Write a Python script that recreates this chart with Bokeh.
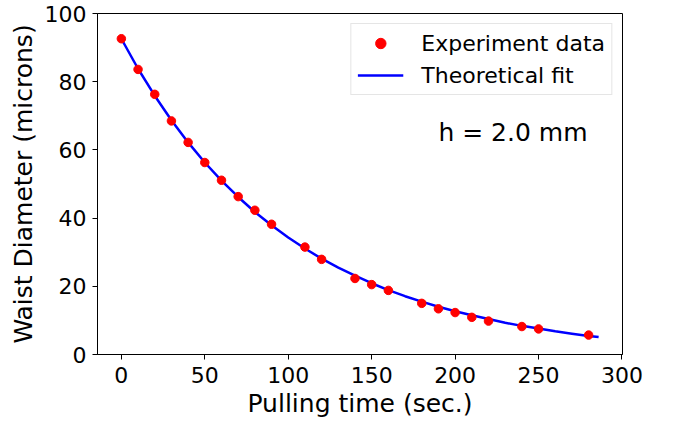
from bokeh.plotting import figure
from bokeh.models import Range1d, Label, Legend, LegendItem, FixedTicker
from bokeh.embed import file_html
from bokeh.resources import INLINE

# Experimental data
time_exp = [0, 10, 20, 30, 40, 50, 60, 70, 80, 90, 110, 120, 140, 150, 160,
            180, 190, 200, 210, 220, 240, 250, 280]
diam_exp = [92.6, 83.6, 76.3, 68.5, 62.2, 56.3, 51.1, 46.3, 42.3, 38.2, 31.5,
            27.9, 22.3, 20.5, 18.8, 15.0, 13.4, 12.3, 10.9, 9.8, 8.2, 7.5, 5.7]

# Theoretical fit curve
time_fit = [0, 10, 20, 30, 40, 50, 60, 70, 80, 90, 100, 110, 120, 130, 140,
            150, 160, 170, 180, 190, 200, 210, 220, 230, 240, 250, 260, 270,
            280, 286]
diam_fit = [92.6, 83.8, 75.9, 68.7, 62.2, 56.3, 51.0, 46.2, 41.8, 37.9, 34.3,
            31.1, 28.1, 25.5, 23.1, 20.9, 18.9, 17.1, 15.5, 14.0, 12.7, 11.5,
            10.4, 9.3, 8.4, 7.6, 6.8, 6.1, 5.4, 5.1]

x_ticks = [0, 50, 100, 150, 200, 250, 300]
y_ticks = [0, 20, 40, 60, 80, 100]

FONT = "DejaVu Sans"

p = figure(width=678, height=421, output_backend="svg", toolbar_location=None,
           x_range=Range1d(-14.3, 300.3), y_range=Range1d(0, 100),
           min_border_left=97, min_border_right=56, min_border_top=13,
           min_border_bottom=67)
p.grid.visible = False
p.outline_line_color = "black"
p.outline_line_width = 1
p.background_fill_color = "white"
p.border_fill_color = "white"

line_r = p.line(time_fit, diam_fit, line_color="#0000ff", line_width=2.5)
pts_r = p.scatter(time_exp, diam_exp, size=8.5, fill_color="#ff0000",
                  line_color="#ff0000")

for ax in (p.xaxis[0], p.yaxis[0]):
    ax.axis_line_color = "black"
    ax.axis_line_width = 1
    ax.major_tick_line_color = "black"
    ax.major_tick_line_width = 1
    ax.major_tick_out = 5
    ax.major_tick_in = 0
    ax.minor_tick_line_color = None
    ax.major_label_text_font = FONT
    ax.major_label_text_font_size = "22px"
    ax.major_label_text_color = "black"
    ax.axis_label_text_font = FONT
    ax.axis_label_text_font_size = "25px"
    ax.axis_label_text_font_style = "normal"
    ax.axis_label_text_color = "black"

p.xaxis[0].ticker = FixedTicker(ticks=x_ticks)
p.yaxis[0].ticker = FixedTicker(ticks=y_ticks)
p.xaxis[0].axis_label = "Pulling time (sec.)"
p.yaxis[0].axis_label = "Waist Diameter (microns)"
p.xaxis[0].major_label_standoff = 7
p.yaxis[0].major_label_standoff = 6
p.xaxis[0].axis_label_standoff = 3
p.yaxis[0].axis_label_standoff = 4

legend = Legend(items=[LegendItem(label="Experiment data", renderers=[pts_r]),
                       LegendItem(label="Theoretical fit", renderers=[line_r])],
                location="top_right")
legend.margin = 10
legend.padding = 6
legend.spacing = 6
legend.glyph_width = 46
legend.glyph_height = 26
legend.label_height = 26
legend.label_standoff = 18
legend.label_text_font = FONT
legend.label_text_font_size = "22px"
legend.label_text_color = "black"
legend.border_line_color = "#cccccc"
legend.border_line_width = 1
legend.background_fill_alpha = 0.8
p.add_layout(legend)

p.add_layout(Label(x=190, y=65, text="h = 2.0 mm", text_font=FONT,
                   text_font_size="25px", text_baseline="alphabetic",
                   text_color="black"))

open("out.html", "w").write(file_html(p, INLINE))
